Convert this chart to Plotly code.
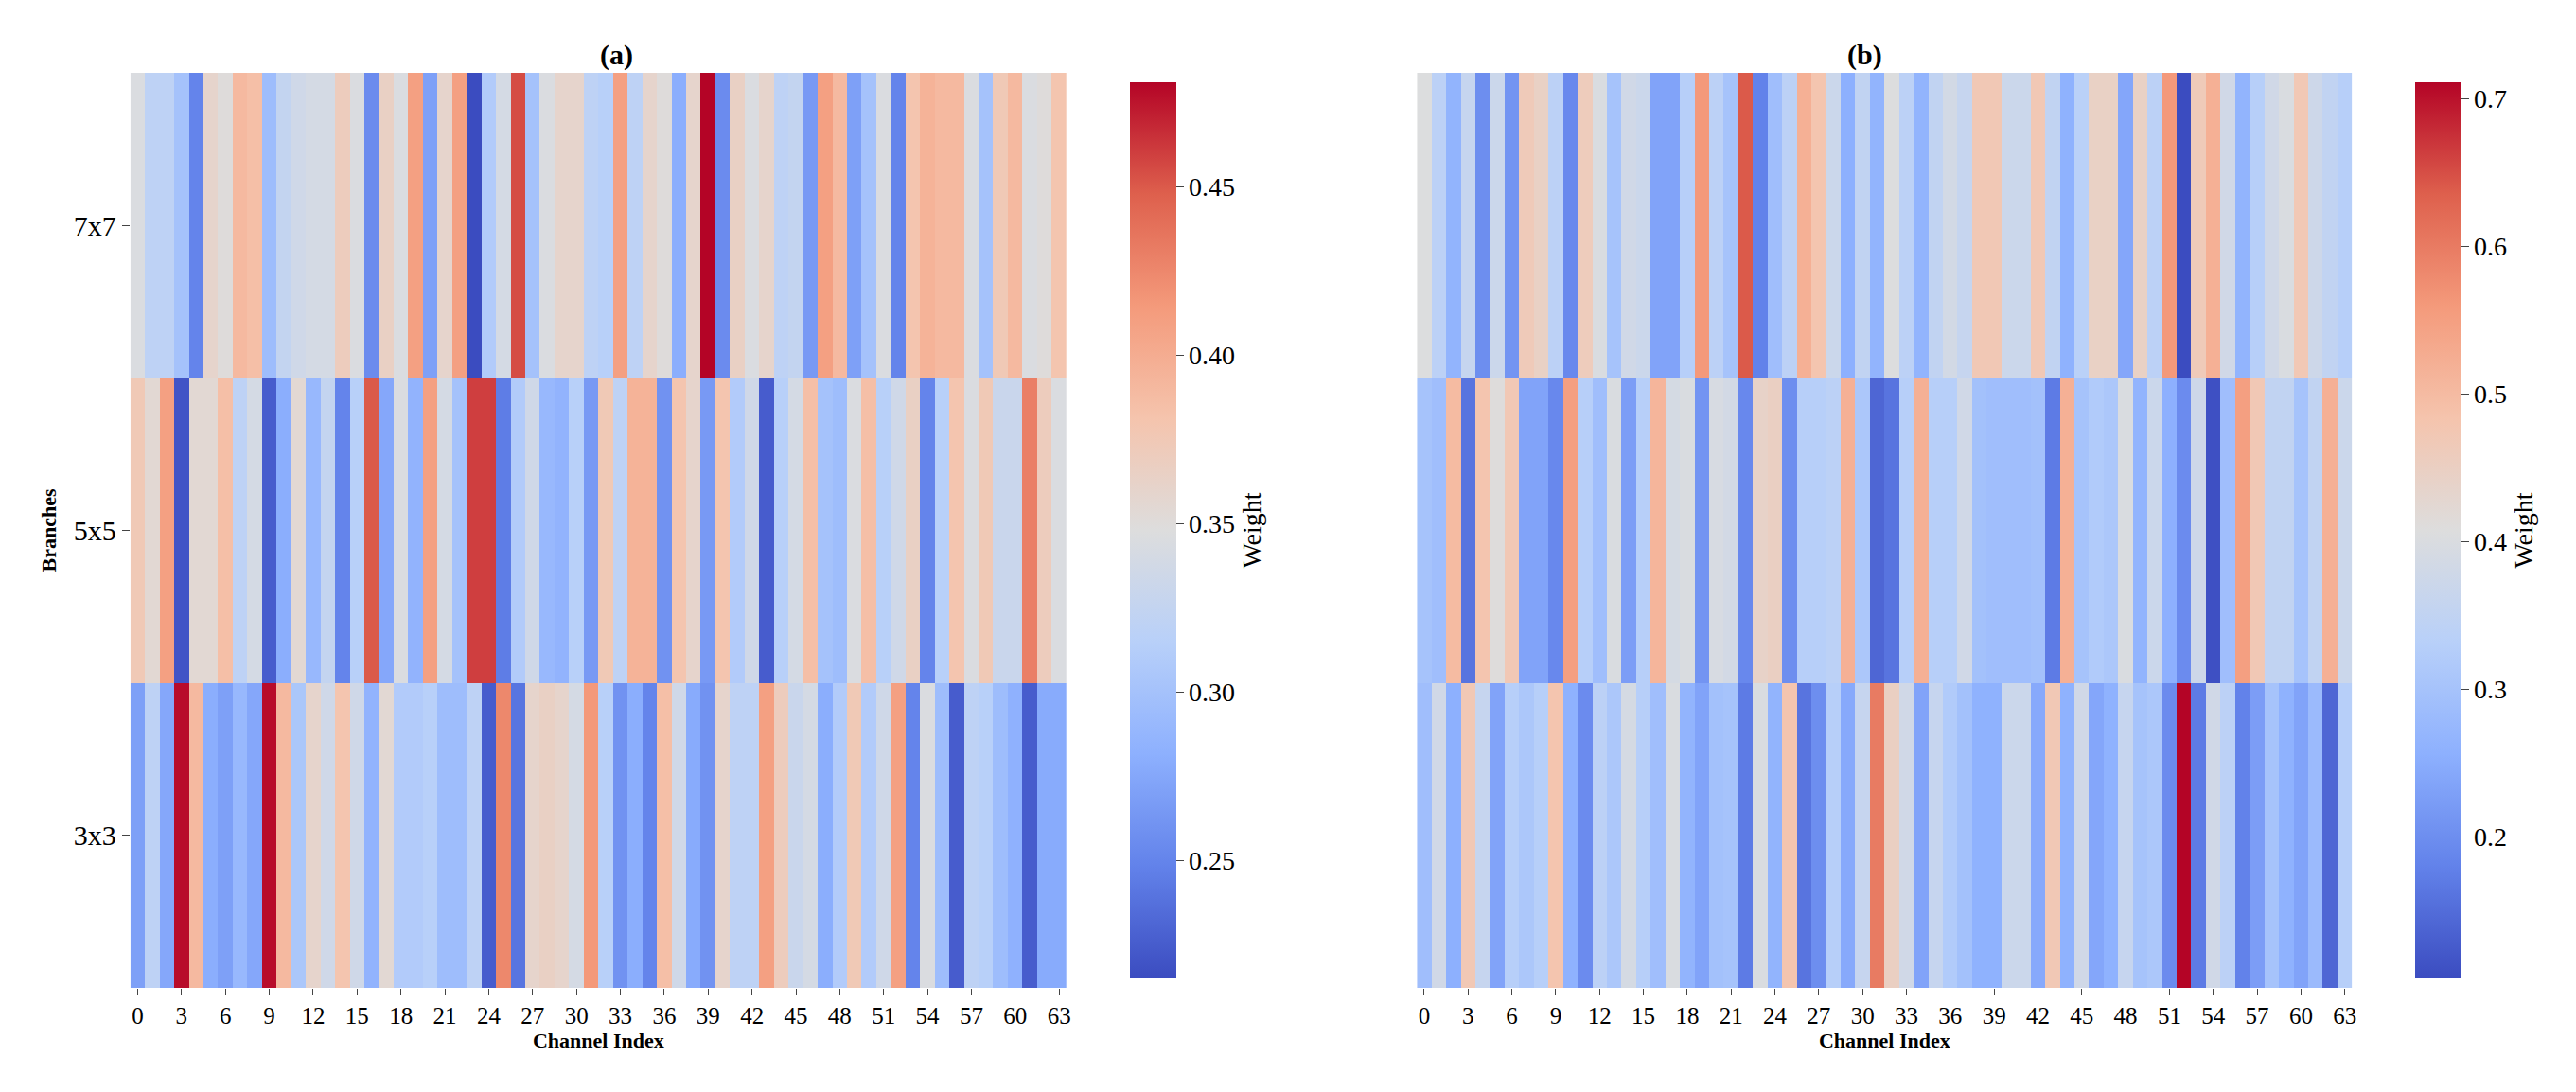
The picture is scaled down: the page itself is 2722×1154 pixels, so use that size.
import plotly.graph_objects as go

channels = list(range(64))
branches = ["3x3", "5x5", "7x7"]
x_ticks = list(range(0, 64, 3))

# Panel (a)
a_7x7 = [0.345,0.32,0.32,0.30,0.25,0.36,0.35,0.39,0.385,0.295,0.325,0.335,0.34,0.34,0.37,0.345,
         0.255,0.365,0.345,0.41,0.27,0.36,0.41,0.215,0.31,0.34,0.455,0.30,0.345,0.36,0.36,0.32,
         0.315,0.41,0.32,0.36,0.35,0.28,0.36,0.481,0.255,0.365,0.345,0.36,0.32,0.325,0.265,0.41,
         0.39,0.27,0.30,0.345,0.25,0.38,0.395,0.39,0.39,0.345,0.30,0.375,0.39,0.345,0.35,0.38]
a_5x5 = [0.375,0.355,0.41,0.22,0.355,0.355,0.385,0.32,0.34,0.225,0.28,0.355,0.29,0.325,0.25,0.315,
         0.45,0.275,0.345,0.285,0.41,0.34,0.30,0.46,0.46,0.245,0.31,0.335,0.29,0.285,0.315,0.265,
         0.375,0.32,0.395,0.395,0.26,0.38,0.36,0.265,0.38,0.31,0.335,0.225,0.315,0.34,0.385,0.30,
         0.295,0.345,0.385,0.315,0.335,0.365,0.25,0.315,0.38,0.345,0.375,0.33,0.33,0.43,0.37,0.345]
a_3x3 = [0.27,0.32,0.275,0.478,0.39,0.28,0.27,0.29,0.275,0.478,0.39,0.305,0.36,0.335,0.38,0.335,
         0.285,0.355,0.31,0.31,0.315,0.295,0.295,0.32,0.225,0.425,0.24,0.36,0.365,0.36,0.34,0.415,
         0.315,0.26,0.28,0.25,0.385,0.335,0.278,0.26,0.36,0.32,0.32,0.41,0.37,0.33,0.34,0.28,
         0.31,0.375,0.31,0.335,0.41,0.25,0.345,0.295,0.225,0.32,0.315,0.295,0.283,0.225,0.278,0.278]

# Panel (b)
b_7x7 = [0.405,0.34,0.265,0.36,0.20,0.37,0.21,0.465,0.445,0.34,0.19,0.46,0.40,0.30,0.38,0.37,
         0.235,0.235,0.33,0.56,0.34,0.30,0.64,0.18,0.29,0.34,0.52,0.48,0.37,0.255,0.35,0.265,
         0.405,0.34,0.265,0.35,0.385,0.36,0.47,0.47,0.37,0.37,0.47,0.35,0.26,0.335,0.445,0.445,
         0.24,0.445,0.34,0.56,0.104,0.465,0.52,0.38,0.265,0.33,0.38,0.40,0.47,0.375,0.35,0.33]
b_5x5 = [0.30,0.29,0.50,0.16,0.48,0.41,0.47,0.235,0.235,0.19,0.55,0.33,0.29,0.40,0.225,0.33,
         0.51,0.39,0.40,0.21,0.395,0.385,0.19,0.44,0.45,0.20,0.33,0.33,0.34,0.52,0.31,0.14,
         0.16,0.33,0.52,0.33,0.33,0.38,0.295,0.29,0.29,0.29,0.295,0.17,0.52,0.30,0.32,0.31,
         0.40,0.265,0.37,0.255,0.195,0.375,0.11,0.29,0.55,0.47,0.35,0.35,0.30,0.35,0.52,0.37]
b_3x3 = [0.29,0.38,0.255,0.47,0.36,0.235,0.33,0.31,0.33,0.48,0.26,0.195,0.34,0.31,0.39,0.33,
         0.29,0.40,0.265,0.235,0.295,0.30,0.17,0.40,0.265,0.48,0.16,0.20,0.33,0.245,0.36,0.60,
         0.45,0.38,0.235,0.36,0.32,0.295,0.26,0.26,0.37,0.37,0.245,0.47,0.26,0.38,0.24,0.26,
         0.36,0.30,0.31,0.195,0.711,0.17,0.38,0.34,0.18,0.225,0.30,0.26,0.235,0.28,0.14,0.33]

coolwarm = [[0.0, "rgb(59,76,192)"], [0.125, "rgb(98,130,234)"], [0.25, "rgb(141,176,254)"],
            [0.375, "rgb(184,208,249)"], [0.5, "rgb(221,221,221)"], [0.625, "rgb(245,196,173)"],
            [0.75, "rgb(244,154,123)"], [0.875, "rgb(222,96,77)"], [1.0, "rgb(180,4,38)"]]

FONT = "Liberation Serif, Times New Roman, serif"
W, H = 2722, 1154
ytop, ybot = 1 - 69 / H, 1 - 1036 / H

fig = go.Figure()
panels = [
    ([a_3x3, a_5x5, a_7x7], "x", "y", 1178 / W, [0.25, 0.30, 0.35, 0.40, 0.45], ".2f"),
    ([b_3x3, b_5x5, b_7x7], "x2", "y2", 2539 / W, [0.2, 0.3, 0.4, 0.5, 0.6, 0.7], ".1f"),
]
for z, xa, ya, cbx, cbt, fmt in panels:
    fig.add_trace(go.Heatmap(
        z=z, x=channels, y=branches, xaxis=xa, yaxis=ya, colorscale=coolwarm,
        colorbar=dict(x=cbx, xanchor="left", y=ybot, yanchor="bottom", len=ytop - ybot,
                      lenmode="fraction", thickness=49, thicknessmode="pixels",
                      outlinewidth=0, tickvals=cbt, tickformat=fmt, ticks="outside",
                      ticklen=8, tickfont=dict(family=FONT, size=28, color="black"),
                      title=dict(text="Weight", side="right",
                                 font=dict(family=FONT, size=28, color="black"))),
    ))

xax = dict(tickmode="array", tickvals=x_ticks, ticks="outside", ticklen=7,
           tickfont=dict(family=FONT, size=25, color="black"), showgrid=False, zeroline=False,
           showline=False, anchor=None,
           title=dict(text="<b>Channel Index</b>", font=dict(family=FONT, size=22, color="black"),
                      standoff=4))
fig.update_layout(
    width=W, height=H, margin=dict(l=0, r=0, t=0, b=0),
    paper_bgcolor="white", plot_bgcolor="white",
    xaxis=dict(xax, domain=[130 / W, 1121 / W], anchor="y"),
    xaxis2=dict(xax, domain=[1492 / W, 2482 / W], anchor="y2"),
    yaxis=dict(domain=[ybot, ytop], ticks="outside", ticklen=8, showgrid=False,
               tickfont=dict(family=FONT, size=30, color="black"),
               title=dict(text="<b>Branches</b>", font=dict(family=FONT, size=22, color="black"),
                          standoff=12)),
    yaxis2=dict(domain=[ybot, ytop], anchor="x2", showticklabels=False, ticks="",
                showgrid=False),
    annotations=[
        dict(text="<b>(a)</b>", x=(130 + 1121) / 2 / W, y=1 - 31 / H, xref="paper", yref="paper",
             showarrow=False, font=dict(family=FONT, size=30, color="black")),
        dict(text="<b>(b)</b>", x=(1492 + 2482) / 2 / W, y=1 - 31 / H, xref="paper", yref="paper",
             showarrow=False, font=dict(family=FONT, size=30, color="black")),
    ],
)
fig.write_html("out.html")
